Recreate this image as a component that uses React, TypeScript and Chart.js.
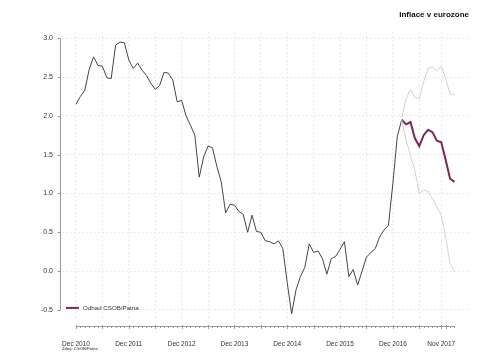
import React, { useEffect, useRef } from "react";
import { Chart, registerables } from "chart.js";

Chart.register(...registerables);

// Month index 0 = Dec 2010
const actualValues = [
  2.15, 2.25, 2.33, 2.6, 2.76, 2.65, 2.64, 2.49, 2.48, 2.91, 2.95, 2.94,
  2.72, 2.61, 2.68, 2.59, 2.52, 2.42, 2.34, 2.39, 2.56, 2.55, 2.46, 2.18,
  2.2, 2.0, 1.88, 1.75, 1.21, 1.47, 1.61, 1.59, 1.35, 1.15, 0.75, 0.86,
  0.85, 0.77, 0.73, 0.5, 0.72, 0.51, 0.5, 0.39, 0.38, 0.35, 0.39, 0.29,
  -0.15, -0.55, -0.24, -0.07, 0.05, 0.35, 0.24, 0.26, 0.16, -0.04, 0.16, 0.19,
  0.28, 0.38, -0.07, 0.02, -0.18, 0.0, 0.18, 0.24, 0.29, 0.44, 0.53, 0.59,
  1.13, 1.73, 1.95,
];
const forecastStartIndex = 74;
const forecastCentral = [1.95, 1.89, 1.92, 1.71, 1.61, 1.75, 1.82, 1.79, 1.68, 1.66, 1.43, 1.19, 1.15];
const forecastUpper = [1.97, 2.22, 2.34, 2.24, 2.22, 2.44, 2.61, 2.63, 2.58, 2.64, 2.48, 2.28, 2.27];
const forecastLower = [1.95, 1.69, 1.49, 1.3, 1.0, 1.04, 1.03, 0.93, 0.83, 0.72, 0.44, 0.1, -0.01];

const xLabelIndices = [0, 12, 24, 36, 48, 60, 72, 83];
const xLabels = ["Dec 2010", "Dec 2011", "Dec 2012", "Dec 2013", "Dec 2014", "Dec 2015", "Dec 2016", "Nov 2017"];
const xGridIndices = [0, 6, 12, 18, 24, 30, 36, 42, 48, 54, 60, 66, 72, 78, 83];
const xAxisEndIndex = 86;
const yTicks = [-0.5, 0, 0.5, 1.0, 1.5, 2.0, 2.5, 3.0];

const titleText = "Inflace v eurozone";
const legendText = "Odhad CSOB/Patria";
const sourceText = "Zdroj: CSOB/Patria";

const FONT = "'Liberation Sans', Arial, sans-serif";
const PURPLE = "#7b2857";
const LIGHT = "#d6d0d3";
const DARK = "#444444";
const AXIS = "#9a9a9a";
const TEXT = "#333333";
const GRID = "#ebebeb";

const toPoints = (vals: number[], start: number) => vals.map((v, i) => ({ x: start + i, y: v }));

const axesPlugin = {
  id: "rAxes",
  afterDraw(chart: any) {
    const { ctx, chartArea, scales } = chart;
    const xs = scales.x;
    const ys = scales.y;
    ctx.save();
    ctx.strokeStyle = AXIS;
    ctx.lineWidth = 1;
    // y axis
    const ax = Math.round(chartArea.left - 2) + 0.5;
    ctx.beginPath();
    ctx.moveTo(ax, ys.getPixelForValue(yTicks[yTicks.length - 1]));
    ctx.lineTo(ax, ys.getPixelForValue(yTicks[0]));
    ctx.stroke();
    yTicks.forEach((t) => {
      const py = Math.round(ys.getPixelForValue(t)) + 0.5;
      ctx.beginPath();
      ctx.moveTo(ax - 3, py);
      ctx.lineTo(ax, py);
      ctx.stroke();
    });
    // x axis
    const ay = Math.round(chartArea.bottom + 6) + 0.5;
    ctx.beginPath();
    ctx.moveTo(xs.getPixelForValue(0), ay);
    ctx.lineTo(xs.getPixelForValue(xAxisEndIndex), ay);
    ctx.stroke();
    for (let i = 0; i <= xAxisEndIndex; i++) {
      const px = Math.round(xs.getPixelForValue(i)) + 0.5;
      const major = i % 6 === 0 || i === 83;
      ctx.beginPath();
      ctx.moveTo(px, ay - (major ? 1.5 : 0.5));
      ctx.lineTo(px, ay + (major ? 2.5 : 1.5));
      ctx.stroke();
    }
    // legend
    const ly = ys.getPixelForValue(-0.5) - 2;
    ctx.strokeStyle = PURPLE;
    ctx.lineWidth = 2;
    ctx.beginPath();
    ctx.moveTo(chartArea.left + 4, ly);
    ctx.lineTo(chartArea.left + 17, ly);
    ctx.stroke();
    ctx.fillStyle = TEXT;
    ctx.font = `6.2px ${FONT}`;
    ctx.textAlign = "left";
    ctx.textBaseline = "middle";
    ctx.fillText(legendText, chartArea.left + 21, ly);
    // source
    ctx.fillStyle = "#222";
    ctx.font = `4.2px ${FONT}`;
    ctx.fillText(sourceText, chartArea.left, chartArea.bottom + 29);
    ctx.restore();
  },
};

export default function App() {
  const ref = useRef<HTMLCanvasElement | null>(null);
  useEffect(() => {
    if (!ref.current) return;
    const chart = new Chart(ref.current, {
      type: "line",
      data: {
        datasets: [
          { data: toPoints(forecastUpper, forecastStartIndex), borderColor: LIGHT, borderWidth: 1, pointRadius: 0 },
          { data: toPoints(forecastLower, forecastStartIndex), borderColor: LIGHT, borderWidth: 1, pointRadius: 0 },
          { data: toPoints(actualValues, 0), borderColor: DARK, borderWidth: 1, pointRadius: 0 },
          { data: toPoints(forecastCentral, forecastStartIndex), borderColor: PURPLE, borderWidth: 2, pointRadius: 0 },
        ],
      },
      options: {
        animation: false,
        responsive: false,
        maintainAspectRatio: false,
        events: [],
        layout: { padding: { left: 0, right: 31, top: 0, bottom: 0 } },
        plugins: {
          legend: { display: false },
          tooltip: { enabled: false },
          title: {
            display: true,
            text: titleText,
            align: "end",
            color: "#111",
            font: { family: FONT, size: 8, weight: "bold" },
            padding: { top: 10, bottom: 12.4 },
          },
        },
        scales: {
          x: {
            type: "linear",
            min: -3.18,
            max: 89.3,
            afterBuildTicks: (s: any) => {
              s.ticks = xGridIndices.map((v) => ({ value: v }));
            },
            afterFit: (s: any) => {
              s.height = 36;
            },
            ticks: {
              autoSkip: false,
              maxRotation: 0,
              padding: 20,
              color: TEXT,
              font: { family: FONT, size: 6.5 },
              callback: (v: any) => {
                const k = xLabelIndices.indexOf(Number(v));
                return k >= 0 ? xLabels[k] : "";
              },
            },
            grid: { color: GRID, lineWidth: 1, drawTicks: false },
            border: { display: false, dash: [2, 2] },
          },
          y: {
            min: -0.63,
            max: 3.08,
            afterBuildTicks: (s: any) => {
              s.ticks = yTicks.map((v) => ({ value: v }));
            },
            afterFit: (s: any) => {
              s.width = 62;
            },
            ticks: {
              padding: 9,
              color: TEXT,
              font: { family: FONT, size: 7 },
              callback: (v: any) => Number(v).toFixed(1),
            },
            grid: { color: GRID, lineWidth: 1, drawTicks: false },
            border: { display: false, dash: [2, 2] },
          },
        },
      },
      plugins: [axesPlugin],
    } as any);
    return () => chart.destroy();
  }, []);
  return (
    <div style={{ position: "fixed", left: 0, top: 0, width: 500, height: 356, background: "#fff" }}>
      <canvas ref={ref} width={500} height={356} style={{ width: 500, height: 356, display: "block" }} />
    </div>
  );
}
